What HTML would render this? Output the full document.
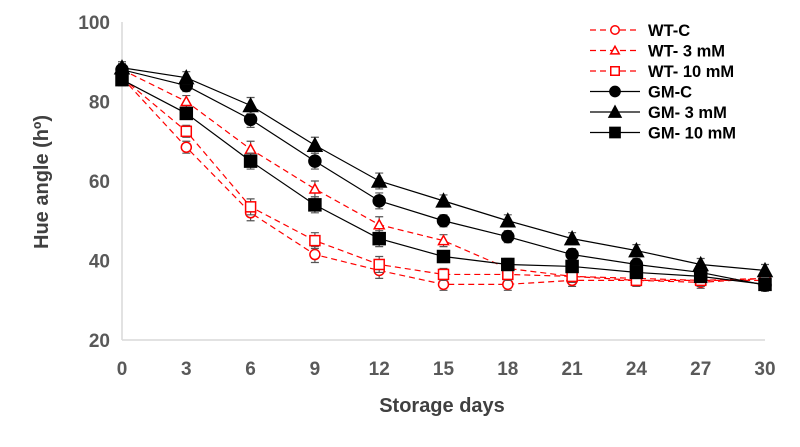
<!DOCTYPE html>
<html><head><meta charset="utf-8"><style>
body{margin:0;background:#fff;font-family:"Liberation Sans",Arial,sans-serif}
svg text{font-family:"Liberation Sans",Arial,sans-serif;font-weight:bold}
</style></head><body>
<svg id="chart" width="800" height="442"></svg>
<script>
const days=[0,3,6,9,12,15,18,21,24,27,30];
const yTicks=[20,40,60,80,100];
const wtC=[86,68.5,52,41.5,37.5,34,34,35,35,34.5,35.5];
const wt3=[88,80,68,58,49,45,38,36,35.5,35,35.5];
const wt10=[86,72.5,53.5,45,39,36.5,36.5,36,35,35,35];
const gmC=[88,84,75.5,65,55,50,46,41.5,39,37,33.8];
const gm3=[88.5,86,79,69,60,55,50,45.5,42.5,39,37.5];
const gm10=[85.5,77,65,54,45.5,41,39,38.5,37,36,34];
const errs=[1.5,1.5,2,2,2,1.5,1.5,1.5,1.5,1.5,1.5];
const seriesNames=["WT-C","WT- 3 mM","WT- 10 mM","GM-C","GM- 3 mM","GM- 10 mM"];
const NS="http://www.w3.org/2000/svg";
const svg=document.getElementById('chart');
const X0=122,X1=765,Y0=340,Y1=22;
const xs=d=>X0+(d-0)/(30-0)*(X1-X0);
const ys=v=>Y0-(v-20)/(100-20)*(Y0-Y1);
function mk(t,a,p){const e=document.createElementNS(NS,t);for(const k in a)e.setAttribute(k,a[k]);(p||svg).appendChild(e);return e;}
const ya=mk('line',{x1:X0,y1:Y1,x2:X0,y2:Y0,stroke:'#d9d9d9','stroke-width':1.5});


const xa=mk('line',{x1:X0,y1:Y0,x2:X1,y2:Y0,stroke:'#d9d9d9','stroke-width':1.5});


yTicks.forEach(v=>{const t=mk('text',{x:X0-12,y:ys(v)+7,'text-anchor':'end','font-size':19,fill:'#595959'});t.textContent=v;

});
days.forEach(d=>{const t=mk('text',{x:xs(d),y:Y0+35,'text-anchor':'middle','font-size':19,fill:'#595959'});t.textContent=d;

});
const xt=mk('text',{x:442,y:412,'text-anchor':'middle','font-size':20,fill:'#404040'});xt.textContent='Storage days';


const yt=mk('text',{x:0,y:0,'text-anchor':'middle','font-size':20,fill:'#404040',transform:'translate(48,182) rotate(-90)'});yt.textContent='Hue angle (hº)';


function marker(g,type,x,y,col,fill,s){
 s=s||1;
 if(type==='circle')mk('circle',{cx:x,cy:y,r:(fill?6:5)*s,fill:fill?col:'#fff',stroke:col,'stroke-width':1.5},g);
 else if(type==='tri'){const a=(fill?7:5)*s,b=(fill?6:4)*s;mk('polygon',{points:`${x},${y-a} ${x-a},${y+b} ${x+a},${y+b}`,fill:fill?col:'#fff',stroke:col,'stroke-width':1.5},g);}
 else {const h=(fill?6:5)*s;mk('rect',{x:x-h,y:y-h,width:2*h,height:2*h,fill:fill?col:'#fff',stroke:col,'stroke-width':1.5},g);}
}
const all=[[wtC,'circle','#ff0000',false,'wt-c'],[wt3,'tri','#ff0000',false,'wt-3mm'],[wt10,'rect','#ff0000',false,'wt-10mm'],
[gmC,'circle','#000',true,'gm-c'],[gm3,'tri','#000',true,'gm-3mm'],[gm10,'rect','#000',true,'gm-10mm']];
all.forEach((s,i)=>{
 const [vals,type,col,fill,nm]=s;
 const g=mk('g',{});
 
 
 mk('polyline',{points:vals.map((v,j)=>xs(days[j])+','+ys(v)).join(' '),fill:'none',stroke:col,'stroke-width':1.2,'stroke-dasharray':fill?'':'6,4'},g);
 vals.forEach((v,j)=>{
  const x=xs(days[j]),e=errs[j];
  mk('path',{d:`M${x},${ys(v+e)}V${ys(v-e)}M${x-4},${ys(v+e)}H${x+4}M${x-4},${ys(v-e)}H${x+4}`,stroke:'#555','stroke-width':1.2},g);
  marker(g,type,x,ys(v),col,fill);
 });
 const ly=30+i*20.5;
 const lg=mk('g',{});
 
 
 mk('line',{x1:590,y1:ly,x2:640,y2:ly,stroke:col,'stroke-width':1.2,'stroke-dasharray':fill?'':'6,4'},lg);
 marker(lg,type,615,ly,col,fill,0.85);
 const t=mk('text',{x:648,y:ly+6,'font-size':16.5,fill:'#000'},lg);t.textContent=seriesNames[i];
});
</script>
</body></html>
